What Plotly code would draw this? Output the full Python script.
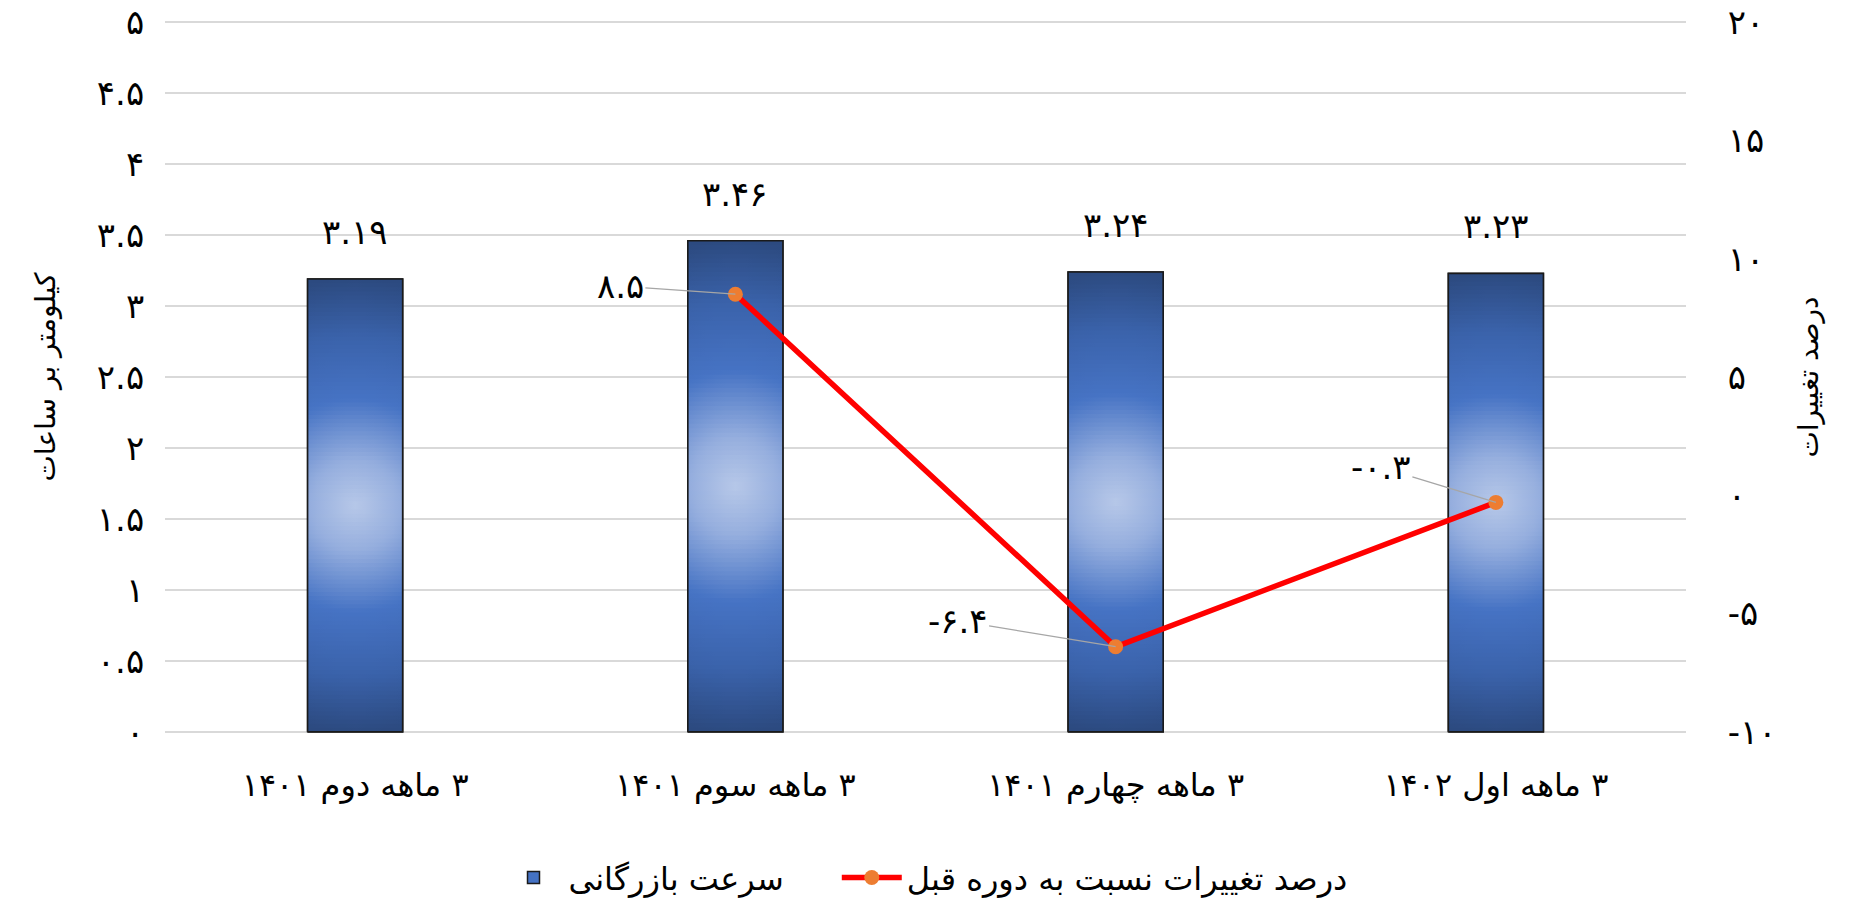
import math
import plotly.graph_objects as go

# ---- data ----
categories = ["\u200f۳ ماهه دوم ۱۴۰۱", "\u200f۳ ماهه سوم ۱۴۰۱", "\u200f۳ ماهه چهارم ۱۴۰۱", "\u200f۳ ماهه اول ۱۴۰۲"]
speed = [3.19, 3.46, 3.24, 3.23]
speed_labels = ["۳.۱۹", "۳.۴۶", "۳.۲۴", "۳.۲۳"]
change = [None, 8.5, -6.4, -0.3]
change_labels = [None, "۸.۵", "-۶.۴", "-۰.۳"]
left_tickvals = [0, 0.5, 1, 1.5, 2, 2.5, 3, 3.5, 4, 4.5, 5]
left_ticktext = ["۰", "۰.۵", "۱", "۱.۵", "۲", "۲.۵", "۳", "۳.۵", "۴", "۴.۵", "۵"]
right_tickvals = [-10, -5, 0, 5, 10, 15, 20]
right_ticktext = ["-۱۰", "-۵", "۰", "۵", "۱۰", "۱۵", "۲۰"]
bar_name = "سرعت بازرگانی"
line_name = "درصد تغییرات نسبت به دوره قبل"
left_title = "کیلومتر بر ساعات"
right_title = "درصد تغییرات"

FONT = "DejaVu Sans"
BAR_W = 0.25
xs = list(range(len(categories)))

# ---- gradient styling helpers (circular "from centre" fill) ----
GRAD = [(0.0, (183, 200, 232)), (0.2, (149, 174, 222)), (0.47, (70, 115, 196)),
        (0.75, (58, 98, 170)), (1.0, (44, 74, 128))]


def grad_color(r):
    r = min(max(r, 0.0), 1.0)
    for (p0, c0), (p1, c1) in zip(GRAD[:-1], GRAD[1:]):
        if r <= p1:
            t = (r - p0) / (p1 - p0)
            c = [round(a + (b - a) * t) for a, b in zip(c0, c1)]
            return "rgb(%d,%d,%d)" % tuple(c)
    return "rgb(%d,%d,%d)" % GRAD[-1][1]


ASPECT = 0.207   # bar half-width / half-height on screen
N_SLICES = 110
N_STOPS = 11

fig = go.Figure()

# bars (also give the legend entry)
fig.add_trace(go.Bar(
    x=xs, y=speed, width=BAR_W, name=bar_name + "\u2003\u2002",
    marker=dict(color="#4472c4", line=dict(color="#1a1a1a", width=1.5)),
    hoverinfo="skip",
))

# gradient overlay: horizontal slices of each bar
for i, v in zip(xs, speed):
    h = v / N_SLICES
    for j in range(N_SLICES):
        y0 = j * h
        y1 = min(v, (j + 2.0) * h)
        yc = (j + 0.5) * h
        dy = (yc - v / 2) / (v / 2)
        stops = []
        for k in range(N_STOPS):
            u = -1 + 2 * k / (N_STOPS - 1)
            r = math.sqrt(dy * dy + (u * ASPECT) ** 2)
            stops.append([k / (N_STOPS - 1), grad_color(r)])
        fig.add_trace(go.Scatter(
            x=[i - BAR_W / 2, i + BAR_W / 2, i + BAR_W / 2, i - BAR_W / 2, i - BAR_W / 2],
            y=[y0, y0, y1, y1, y0],
            mode="none", fill="toself",
            fillgradient=dict(type="horizontal", colorscale=stops),
            showlegend=False, hoverinfo="skip",
        ))

# bar outlines on top
ox, oy = [], []
for i, v in zip(xs, speed):
    ox += [i - BAR_W / 2, i + BAR_W / 2, i + BAR_W / 2, i - BAR_W / 2, i - BAR_W / 2, None]
    oy += [0, 0, v, v, 0, None]
fig.add_trace(go.Scatter(x=ox, y=oy, mode="lines", line=dict(color="#1a1a1a", width=1.6),
                         showlegend=False, hoverinfo="skip"))

fig.add_trace(go.Scatter(
    x=xs, y=change, yaxis="y2", name=line_name,
    mode="lines+markers",
    line=dict(color="#ff0000", width=5.5),
    marker=dict(color="#ed7d31", size=15),
    connectgaps=False, hoverinfo="skip",
))

annotations = []
for i, v, t in zip(xs, speed, speed_labels):
    annotations.append(dict(x=i, y=v, xref="x", yref="y", text=t, showarrow=False,
                            yanchor="middle", yshift=47,
                            font=dict(family=FONT, size=34, color="#000000")))

offsets = {1: (-115, -8), 2: (-158, -26), 3: (-115, -35)}
for i, v, t in zip(xs, change, change_labels):
    if v is None:
        continue
    ax, ay = offsets[i]
    annotations.append(dict(x=i, y=v, xref="x", yref="y2", text=t, showarrow=True,
                            arrowhead=0, arrowwidth=1.3, arrowcolor="#a6a6a6",
                            ax=ax, ay=ay, standoff=0,
                            font=dict(family=FONT, size=34, color="#000000")))

fig.update_layout(
    width=1841, height=892,
    margin=dict(l=157, r=163, t=13, b=167, autoexpand=False),
    paper_bgcolor="white", plot_bgcolor="white",
    font=dict(family=FONT, size=30, color="#000000"),
    showlegend=True,
    legend=dict(orientation="h", x=0.5, xanchor="center",
                yref="container", y=0.025, yanchor="middle",
                font=dict(family=FONT, size=32), itemwidth=60),
    xaxis=dict(range=[-0.5, 3.5], tickvals=xs, ticktext=categories, automargin=False,
               showgrid=False, zeroline=False, showline=False,
               ticks="outside", ticklen=24, tickcolor="rgba(0,0,0,0)",
               tickfont=dict(family=FONT, size=32)),
    yaxis=dict(range=[-0.008, 5.008], tickvals=left_tickvals, ticktext=left_ticktext,
               automargin=False, ticklabeloverflow="allow",
               showgrid=True, gridcolor="#d9d9d9", gridwidth=1.5,
               zeroline=False, showline=False,
               ticks="outside", ticklen=13, tickcolor="rgba(0,0,0,0)",
               tickfont=dict(family=FONT, size=34),
               title=dict(text=left_title, font=dict(family=FONT, size=28), standoff=33)),
    yaxis2=dict(range=[-10.048, 20.048], tickvals=right_tickvals, ticktext=right_ticktext,
                automargin=False, ticklabeloverflow="allow",
                overlaying="y", side="right", showgrid=False, zeroline=False, showline=False,
                ticks="outside", ticklen=34, tickcolor="rgba(0,0,0,0)",
                tickfont=dict(family=FONT, size=34),
                title=dict(text=right_title, font=dict(family=FONT, size=28), standoff=22)),
    annotations=annotations,
)

fig.write_html("out.html")
